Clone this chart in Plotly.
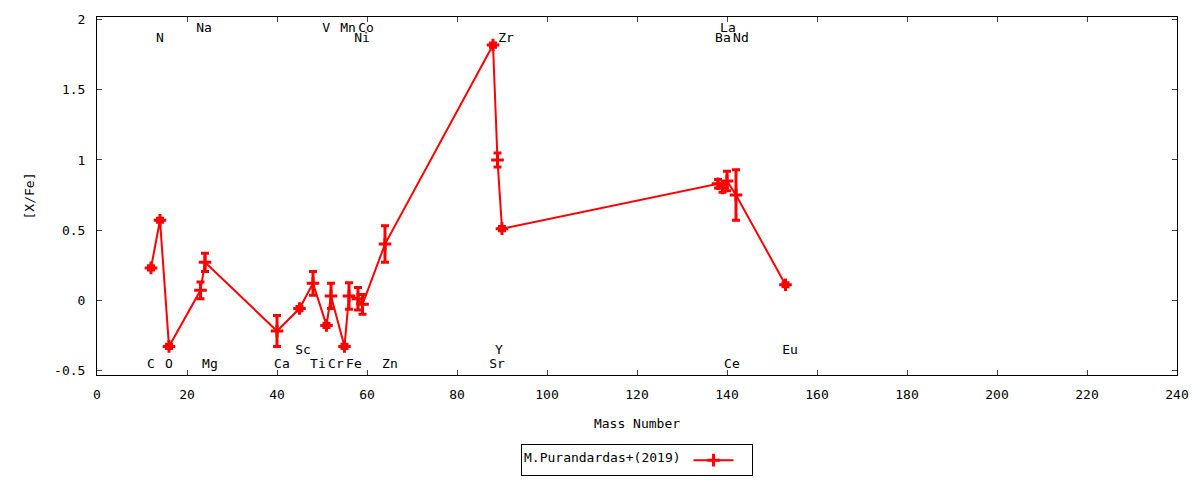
import plotly.graph_objects as go

# Data: mass number, [X/Fe], error
elements = ["C", "N", "O", "Na", "Mg", "Ca", "Sc", "Ti", "V", "Cr", "Mn", "Fe",
            "Ni", "Co", "Zn", "Sr", "Y", "Zr", "Ba", "La", "Ce", "Nd", "Eu"]
mass = [12, 14, 16, 23, 24, 40, 45, 48, 51, 52, 55, 56,
        58, 59, 64, 88, 89, 90, 138, 139, 140, 142, 153]
xfe = [0.23, 0.57, -0.33, 0.07, 0.27, -0.22, -0.06, 0.12, -0.18, 0.03, -0.33, 0.03,
       0.01, -0.03, 0.40, 1.82, 1.00, 0.51, 0.83, 0.80, 0.85, 0.75, 0.11]
err = [0.015, 0.015, 0.015, 0.06, 0.065, 0.11, 0.015, 0.085, 0.015, 0.09, 0.015, 0.095,
       0.08, 0.07, 0.13, 0.015, 0.05, 0.015, 0.03, 0.03, 0.07, 0.18, 0.015]

# Element labels placed as in the reference
label_text = ["Na", "V", "Mn", "Co", "La",
              "N", "Ni", "Zr", "Ba", "Nd",
              "Sc", "Y", "Eu",
              "C", "O", "Mg", "Ca", "Ti", "Cr", "Fe", "Zn", "Sr", "Ce"]
label_x = [23.8, 50.9, 55.8, 59.8, 140.2,
           14.0, 58.9, 90.9, 139.1, 143.1,
           45.8, 89.3, 154.0,
           12.0, 16.0, 25.1, 41.1, 49.1, 53.1, 57.1, 65.1, 88.9, 141.1]
label_y = [1.936, 1.936, 1.936, 1.936, 1.936,
           1.865, 1.865, 1.865, 1.865, 1.865,
           -0.364, -0.364, -0.364,
           -0.464, -0.464, -0.464, -0.464, -0.464, -0.464, -0.464, -0.464, -0.464, -0.464]

x_ticks = [0, 20, 40, 60, 80, 100, 120, 140, 160, 180, 200, 220, 240]
y_ticks = [-0.5, 0, 0.5, 1, 1.5, 2]
y_ticktext = ["-0.5", "0", "0.5", "1", "1.5", "2"]

FONT = "DejaVu Sans Mono"
FS = 13
RED = "#ff0000"

fig = go.Figure()
fig.add_trace(go.Scatter(
    x=mass, y=xfe, mode="lines+markers", name=" ",
    line=dict(color=RED, width=2),
    marker=dict(symbol="cross-thin", size=9, color=RED,
                line=dict(color=RED, width=3)),
    error_y=dict(type="data", array=err, visible=True, color=RED,
                 thickness=3, width=4),
    showlegend=True,
))
fig.add_trace(go.Scatter(
    x=label_x, y=label_y, mode="text", text=label_text,
    textfont=dict(family=FONT, size=FS, color="black"),
    showlegend=False, hoverinfo="skip",
))

fig.update_layout(
    width=1192, height=472,
    margin=dict(l=89, r=23, t=9, b=105),
    paper_bgcolor="white", plot_bgcolor="white",
    font=dict(family=FONT, size=FS, color="black"),
    showlegend=True,
    legend=dict(
        orientation="h", x=0.5, xref="paper", xanchor="center",
        yref="container", y=0.042, yanchor="middle",
        bordercolor="black", borderwidth=1, bgcolor="white",
        title=dict(text="M.Purandardas+(2019)", side="left",
                   font=dict(family=FONT, size=FS)),
        font=dict(family=FONT, size=FS),
        itemwidth=40,
    ),
    xaxis=dict(
        range=[0, 240], tickvals=x_ticks, ticks="inside", ticklen=5,
        showline=True, linecolor="black", linewidth=1, mirror="ticks",
        showgrid=False, zeroline=False, automargin=False,
        title=dict(text="Mass Number", font=dict(family=FONT, size=FS), standoff=18),
        ticklabelstandoff=7,
    ),
    yaxis=dict(
        range=[-0.534, 2.02], tickvals=y_ticks, ticktext=y_ticktext,
        ticks="inside", ticklen=5,
        showline=True, linecolor="black", linewidth=1, mirror="ticks",
        showgrid=False, zeroline=False, automargin=False,
        title=dict(text="[X/Fe]", font=dict(family=FONT, size=FS), standoff=16),
        ticklabelstandoff=8,
    ),
)

fig.write_html("out.html")
